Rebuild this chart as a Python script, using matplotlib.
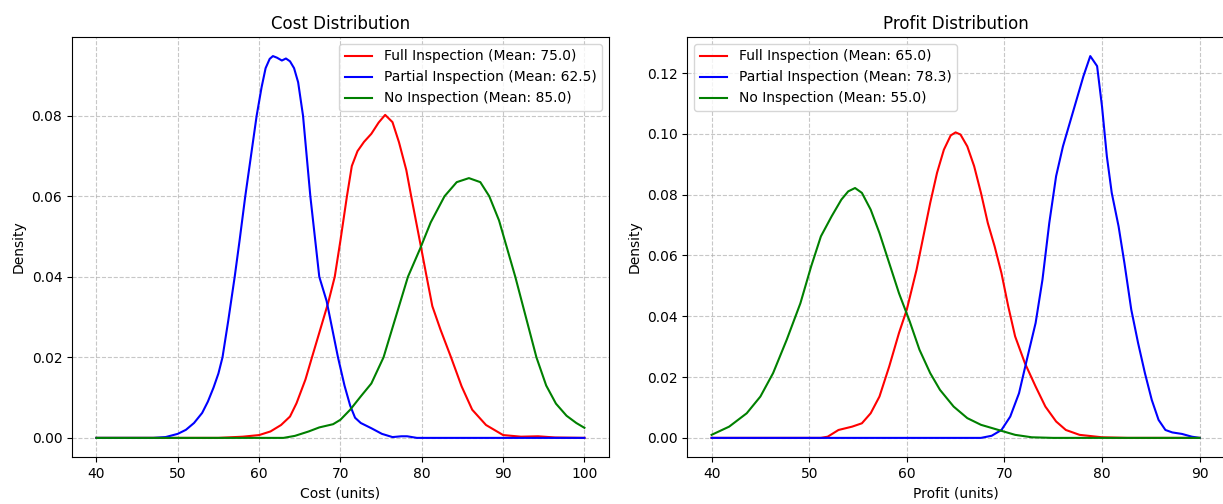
import matplotlib
matplotlib.use("Agg")
import matplotlib.pyplot as plt

# strategies and their means
strategies = ["Full Inspection", "Partial Inspection", "No Inspection"]
colors = ["red", "blue", "green"]
cost_means = [75.0, 62.5, 85.0]
profit_means = [65.0, 78.3, 55.0]

# cost density curves
cost_full_x = [40, 55, 58, 60, 61.4, 62.7, 63.8, 64.6, 65.7, 66.5, 67.4, 68.5, 69.3, 70.0, 70.8,
               71.4, 72.1, 72.9, 73.8, 74.7, 75.5, 76.4, 77.2, 78.1, 78.7, 79.8, 80.6, 81.3, 82.3,
               83.6, 84.9, 86.2, 87.9, 90, 92.2, 94.3, 96.4, 100]
cost_full_y = [0, 0, 0.0003, 0.0007, 0.0016, 0.0032, 0.0053, 0.0086, 0.0145, 0.02, 0.0261, 0.0336,
               0.04, 0.049, 0.06, 0.0675, 0.0712, 0.0735, 0.0755, 0.0783, 0.0802, 0.0784, 0.0734,
               0.0665, 0.06, 0.0485, 0.04, 0.0327, 0.0269, 0.02, 0.0128, 0.007, 0.0032, 0.0007,
               0.0003, 0.0004, 0.0001, 0]

cost_partial_x = [40, 47, 48.5, 50, 51, 52, 53, 53.7, 54.4, 55, 55.5, 56.2, 57, 57.6, 58.3, 59,
                  59.7, 60.3, 60.8, 61.3, 61.7, 62.2, 62.8, 63.3, 63.8, 64.3, 64.8, 65.4, 66.3,
                  67.4, 68.3, 69.0, 69.7, 70.5, 71.2, 71.8, 72.5, 73.8, 75.1, 76.4, 77.5, 78.2,
                  79.4, 100]
cost_partial_y = [0, 0, 0.0002, 0.001, 0.002, 0.0037, 0.0062, 0.009, 0.0125, 0.016, 0.02, 0.029,
                  0.04, 0.049, 0.06, 0.07, 0.08, 0.087, 0.0918, 0.0941, 0.0948, 0.0944, 0.0937,
                  0.0942, 0.0935, 0.0918, 0.0883, 0.08, 0.06, 0.04, 0.034, 0.027, 0.02, 0.013,
                  0.008, 0.005, 0.0037, 0.0024, 0.001, 0.0002, 0.0004, 0.0004, 0.0, 0]

cost_none_x = [40, 63, 64.4, 66.1, 67.4, 69.1, 70, 71.2, 72.5, 73.8, 75.3, 76.8, 78.3, 79.8,
               81.1, 82.8, 84.3, 85.8, 87.2, 88.3, 89.5, 90.5, 91.5, 92.8, 94.1, 95.3, 96.5,
               97.8, 99, 100]
cost_none_y = [0, 0, 0.0005, 0.0016, 0.0026, 0.0034, 0.0045, 0.007, 0.0103, 0.0135, 0.02, 0.03,
               0.04, 0.047, 0.0535, 0.06, 0.0635, 0.0645, 0.0635, 0.06, 0.054, 0.047, 0.04,
               0.03, 0.02, 0.013, 0.0085, 0.0055, 0.0037, 0.0025]

# profit density curves
profit_full_x = [40, 51.2, 51.9, 53, 54.4, 55.4, 56.3, 57.2, 58.2, 59.2, 60, 61, 61.7, 62.4,
                 63.1, 63.8, 64.5, 65, 65.5, 66.2, 66.9, 67.6, 68.3, 69, 69.7, 70.4, 71.1, 72.1,
                 73.2, 74.2, 75.3, 76.3, 77.7, 80, 82.6, 90]
profit_full_y = [0, 0, 0.0004, 0.0026, 0.0037, 0.0048, 0.0081, 0.0136, 0.0235, 0.0345, 0.0422,
                 0.0553, 0.0663, 0.0773, 0.0872, 0.0948, 0.0995, 0.1005, 0.0998, 0.0959, 0.0894,
                 0.0806, 0.0707, 0.063, 0.0542, 0.0432, 0.0334, 0.0246, 0.0169, 0.0103, 0.0054,
                 0.0026, 0.001, 0.0002, 0, 0]

profit_partial_x = [40, 67.6, 68.7, 69.7, 70.6, 71.5, 72.3, 73.2, 73.9, 74.6, 75.3, 76, 76.7,
                    77.4, 78.1, 78.8, 79.5, 80, 80.5, 81, 81.7, 82.3, 83, 83.7, 84.4, 85.1, 85.8,
                    86.5, 87.2, 88.2, 89.2, 90]
profit_partial_y = [0, 0, 0.0007, 0.0026, 0.007, 0.0147, 0.0257, 0.0378, 0.052, 0.0707, 0.0861,
                    0.0959, 0.1036, 0.1113, 0.119, 0.1256, 0.1223, 0.1091, 0.0926, 0.0806,
                    0.0696, 0.0575, 0.0422, 0.0312, 0.0213, 0.0125, 0.0059, 0.0026, 0.0018,
                    0.0013, 0.0004, 0]

profit_none_x = [40, 41.8, 43.6, 45, 46.3, 47.7, 49.1, 50.2, 51.2, 52.3, 53.3, 54, 54.7, 55.4,
                 56.3, 57.2, 58.2, 59.2, 60.3, 61.3, 62.4, 63.4, 64.8, 66.2, 67.6, 69.4, 71.1,
                 72.8, 75, 90]
profit_none_y = [0.001, 0.0037, 0.0081, 0.0136, 0.0213, 0.0323, 0.0443, 0.0564, 0.0663, 0.0729,
                 0.0784, 0.0811, 0.0822, 0.0806, 0.0751, 0.0674, 0.0575, 0.0476, 0.0383, 0.029,
                 0.0213, 0.0158, 0.0103, 0.0065, 0.0043, 0.0026, 0.001, 0.0002, 0, 0]

cost_curves = [(cost_full_x, cost_full_y), (cost_partial_x, cost_partial_y),
               (cost_none_x, cost_none_y)]
profit_curves = [(profit_full_x, profit_full_y), (profit_partial_x, profit_partial_y),
                 (profit_none_x, profit_none_y)]

fig, (ax1, ax2) = plt.subplots(1, 2, figsize=(12.23, 5.04), dpi=100)
fig.subplots_adjust(left=0.0589, right=1.0008, bottom=0.0933, top=0.9266, wspace=0.146)

for (x, y), name, m, c in zip(cost_curves, strategies, cost_means, colors):
    ax1.plot(x, y, color=c, label=f"{name} (Mean: {m:.1f})")
ax1.set_title("Cost Distribution", fontsize=12)
ax1.set_xlabel("Cost (units)")
ax1.set_ylabel("Density")
ax1.legend(loc="upper right")
ax1.grid(True, linestyle="--", alpha=0.7)

for (x, y), name, m, c in zip(profit_curves, strategies, profit_means, colors):
    ax2.plot(x, y, color=c, label=f"{name} (Mean: {m:.1f})")
ax2.set_title("Profit Distribution", fontsize=12)
ax2.set_xlabel("Profit (units)")
ax2.set_ylabel("Density")
ax2.legend(loc="upper left")
ax2.grid(True, linestyle="--", alpha=0.7)

plt.savefig("out.png", dpi=100)
